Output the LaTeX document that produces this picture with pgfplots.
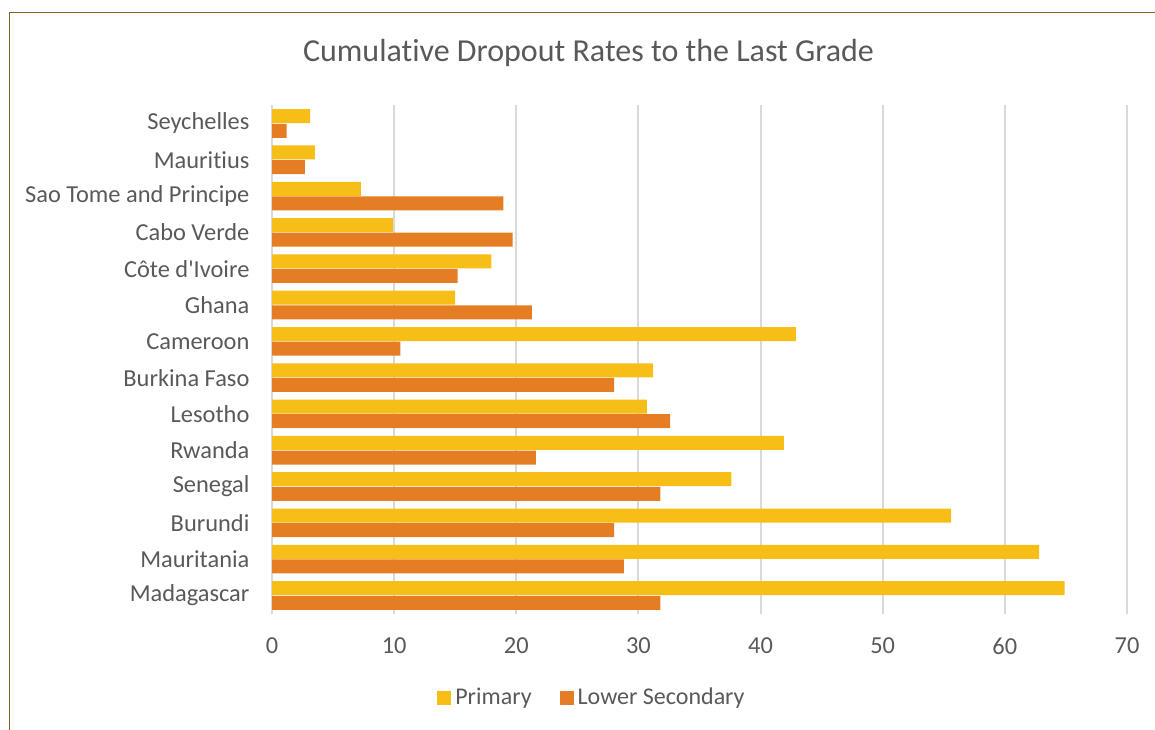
\documentclass[border=0pt]{standalone}
\usepackage{pgfplots}
\pgfplotsset{compat=1.18}
\usepackage{fontspec}
\setmainfont{Carlito}[Ligatures={TeXOff,NoCommon}]
\definecolor{prim}{HTML}{F6BE16}
\definecolor{lsec}{HTML}{E57D25}
\definecolor{txt}{HTML}{595959}
\definecolor{gridc}{HTML}{D9D9D9}
\definecolor{framec}{HTML}{7F6128}
\begin{document}
\begin{tikzpicture}[x=0.5pt,y=-0.5pt]
\useasboundingbox (0,0) rectangle (1155,729);
\draw[framec, line width=0.7pt] (9.7,12.5) rectangle (1250,800);
\node[txt, font=\fontsize{16}{20}\selectfont] at (588.5,53) {Cumulative Dropout Rates to the Last Grade};
\begin{axis}[
  at={(136pt,-306.8pt)}, anchor=south west,
  scale only axis, width=427.5pt, height=254.15pt,
  xbar, bar width=7pt,
  xmin=0, xmax=70, ymin=-0.5, ymax=13.5,
  y dir=reverse,
  xtick={0,10,...,70},
  ytick={0,...,13},
  yticklabels={Seychelles,Mauritius,Sao Tome and Principe,Cabo Verde,Côte d'Ivoire,Ghana,Cameroon,Burkina Faso,Lesotho,Rwanda,Senegal,Burundi,Mauritania,Madagascar},
  xmajorgrids, major grid style={gridc, line width=1pt},
  axis line style={draw=none}, tick style={draw=none},
  /pgf/number format/assume math mode=true,
  ticklabel style={font=\fontsize{12.2}{15}\selectfont, text=txt},
  xticklabel style={yshift=-8.5pt},
  yticklabel style={xshift=-3.5pt},
  legend style={at={(0.3754,-0.166)}, anchor=center, draw=none, legend columns=2,
    font=\fontsize{12}{14}\selectfont, text=txt,
    /tikz/every even column/.append style={column sep=12pt}},
  legend image code/.code={\fill[#1] (0pt,-3.5pt) rectangle (7pt,3.5pt);},
]
\addplot[fill=prim, draw=none, bar shift=3.65pt] coordinates {
(3.13,0) (3.5,1) (7.28,2) (9.9,3) (17.97,4) (15.0,5) (42.9,6) (31.2,7) (30.7,8) (41.9,9) (37.6,10) (55.6,11) (62.8,12) (64.9,13)};
\addlegendentry{Primary}
\addplot[fill=lsec, draw=none, bar shift=-3.65pt] coordinates {
(1.19,0) (2.69,1) (18.95,2) (19.7,3) (15.2,4) (21.27,5) (10.5,6) (28.0,7) (32.6,8) (21.6,9) (31.8,10) (28.0,11) (28.8,12) (31.8,13)};
\addlegendentry{Lower Secondary}
\end{axis}
\end{tikzpicture}
\end{document}
